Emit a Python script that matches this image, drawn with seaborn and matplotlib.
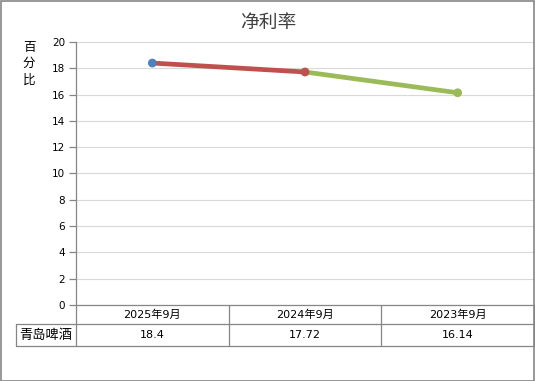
import matplotlib
matplotlib.use("Agg")
import matplotlib.pyplot as plt
import matplotlib.transforms as mtransforms
from matplotlib.lines import Line2D
import seaborn as sns
import pandas as pd

categories = ["2025年9月", "2024年9月", "2023年9月"]
values = [18.4, 17.72, 16.14]
series_name = "青岛啤酒"
value_labels = ["18.4", "17.72", "16.14"]
title = "净利率"
ylabel_chars = ["百", "分", "比"]
yticks = [0, 2, 4, 6, 8, 10, 12, 14, 16, 18, 20]

point_colors = ["#4f81bd", "#c0504d", "#9bbb59"]

sns.set_theme(style="white")
plt.rcParams["font.family"] = ["Noto Sans CJK SC", "DejaVu Sans"]
MIX = ["DejaVu Sans", "Noto Sans CJK SC"]

W, H = 535, 381
fig = plt.figure(figsize=(W / 100, H / 100), dpi=100)
fig.patch.set_facecolor("white")

x0, x1 = 76, 534
ytop, ybot = 42, 305
ax = fig.add_axes([x0 / W, 1 - ybot / H, (x1 - x0) / W, (ybot - ytop) / H])

df = pd.DataFrame({"idx": range(len(categories)), "cat": categories, "val": values})

# segments: each coloured like its end point
for i in range(len(values) - 1):
    seg = df.iloc[i:i + 2]
    sns.lineplot(data=seg, x="idx", y="val", ax=ax, color=point_colors[i + 1],
                 linewidth=3.4, solid_capstyle="round", zorder=3)
sns.scatterplot(data=df, x="idx", y="val", hue="cat", palette=point_colors,
                ax=ax, s=40, edgecolor="none", legend=False, zorder=4)

ax.set_xlim(-0.5, len(categories) - 0.5)
ax.set_ylim(0, 20)
ax.set_yticks(yticks)
ax.set_yticklabels([str(t) for t in yticks], fontsize=7.5, color="#000000",
                   family=MIX)
ax.set_xticks([])
ax.set_xlabel("")
ax.set_ylabel("")
ax.grid(axis="y", color="#d9d9d9", linewidth=0.8)
ax.set_axisbelow(True)
for s in ["top", "right", "bottom"]:
    ax.spines[s].set_visible(False)
ax.spines["left"].set_color("#868686")
ax.spines["left"].set_linewidth(0.9)
ax.tick_params(axis="y", which="major", left=True, length=5, width=0.9,
               color="#868686", pad=3)

# title
fig.text(268 / W, 1 - 22 / H, title, ha="center", va="center",
         fontsize=13.5, color="#404040")
# stacked y label
for k, ch in enumerate(ylabel_chars):
    fig.text(29 / W, 1 - (47 + 16.5 * k) / H, ch, ha="center", va="center",
             fontsize=9, color="#000000")

# data table
trans = mtransforms.blended_transform_factory(ax.transData, fig.transFigure)
gc = "#868686"
r0, r1, r2 = 1 - 305 / H, 1 - 324 / H, 1 - 346 / H
n = len(categories)
for yy in (r0, r1, r2):
    ax.add_line(Line2D([-0.5, n - 0.5], [yy, yy], transform=trans, color=gc,
                       lw=0.9, clip_on=False))
for b in range(n + 1):
    xb = b - 0.5
    ax.add_line(Line2D([xb, xb], [r0, r2], transform=trans, color=gc, lw=0.9,
                       clip_on=False))
for i, c in enumerate(categories):
    ax.text(i, (r0 + r1) / 2, c, transform=trans, ha="center", va="center",
            fontsize=8, color="#000000", family=MIX)
    ax.text(i, (r1 + r2) / 2, value_labels[i], transform=trans, ha="center",
            va="center", fontsize=8, color="#000000", family=MIX)
# row header box
fl = 16 / W
fr = 76 / W
for yy in (r1, r2):
    fig.add_artist(Line2D([fl, fr], [yy, yy], transform=fig.transFigure,
                          color=gc, lw=0.9))
fig.add_artist(Line2D([fl, fl], [r1, r2], transform=fig.transFigure,
                      color=gc, lw=0.9))
fig.text((fl + fr) / 2, (r1 + r2) / 2, series_name, ha="center", va="center",
         fontsize=9.5, color="#000000")

# outer frame
fig.add_artist(plt.Rectangle((0.5 / W, 0.5 / H), 1 - 1.5 / W, 1 - 1.5 / H,
                             transform=fig.transFigure, fill=False,
                             edgecolor="#868686", lw=1.2))

fig.savefig("out.png", dpi=100)
